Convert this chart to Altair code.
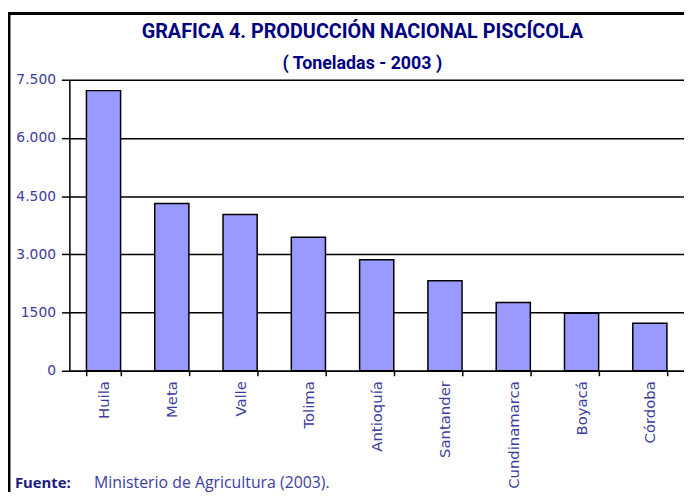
import altair as alt
import pandas as pd

departamentos = ["Huila", "Meta", "Valle", "Tolima", "Antioquía", "Santander",
                 "Cundinamarca", "Boyacá", "Córdoba"]
toneladas = [7220, 4310, 4030, 3440, 2860, 2320, 1760, 1480, 1225]
y_ticks = [0, 1500, 3000, 4500, 6000, 7500]
y_tick_labels = ["0", "1500", "3.000", "4.500", "6.000", "7.500"]
titulo = "GRAFICA 4. PRODUCCIÓN NACIONAL PISCÍCOLA"
subtitulo = "( Toneladas  - 2003 )"
fuente_label = "Fuente:"
fuente_texto = "Ministerio de Agricultura (2003)."

df = pd.DataFrame({"departamento": departamentos, "toneladas": toneladas})

label_expr = "[{}][indexof([{}], datum.value)]".format(
    ",".join("'" + s + "'" for s in y_tick_labels),
    ",".join(str(v) for v in y_ticks),
)

axis_blue = "#3d3d9e"
narrow = "Roboto, sans-serif"

bars = alt.Chart(df).mark_bar(color="#9999ff", stroke="black", strokeWidth=1.5).encode(
    x=alt.X("departamento:N", sort=departamentos,
            scale=alt.Scale(paddingInner=0.5, paddingOuter=0.25),
            axis=alt.Axis(title=None, labelAngle=270, labelFontSize=15,
                          labelFont="DejaVu Sans", labelColor=axis_blue,
                          tickBand="extent", tickColor="black", tickSize=5,
                          tickWidth=1.5, domainColor="black", domainWidth=1.5,
                          labelPadding=5)),
    y=alt.Y("toneladas:Q", scale=alt.Scale(domain=[0, 7500]),
            axis=alt.Axis(title=None, values=y_ticks, labelExpr=label_expr,
                          grid=True, gridColor="black", gridWidth=1.5,
                          tickColor="black", tickSize=8, tickWidth=1.5,
                          domainColor="black", domainWidth=1.5,
                          labelColor=axis_blue, labelFontSize=14,
                          labelFont="DejaVu Sans", labelPadding=6)),
)

title_layer = alt.Chart(pd.DataFrame({"t": [titulo]})).mark_text(
    font=narrow, fontSize=20, fontWeight="bold", color="#000080", align="center", baseline="middle"
).encode(text="t:N", x=alt.value(296), y=alt.value(-48))

subtitle_layer = alt.Chart(pd.DataFrame({"t": [subtitulo]})).mark_text(
    font=narrow, fontSize=18, fontWeight="bold", color="#000080", align="center", baseline="middle"
).encode(text="t:N", x=alt.value(296), y=alt.value(-16))

fuente_l = alt.Chart(pd.DataFrame({"t": [fuente_label]})).mark_text(
    font="Open Sans", fontSize=15, fontWeight="bold", color="#1a1a80", align="left", baseline="middle"
).encode(text="t:N", x=alt.value(-55), y=alt.value(407))

fuente_t = alt.Chart(pd.DataFrame({"t": [fuente_texto]})).mark_text(
    font="Open Sans", fontSize=16, color=axis_blue, align="left", baseline="middle"
).encode(text="t:N", x=alt.value(25), y=alt.value(407))

border_left = alt.Chart(pd.DataFrame({"a": [0]})).mark_rule(color="black", strokeWidth=3).encode(
    x=alt.value(-61), y=alt.value(-67), y2=alt.value(420))
border_top = alt.Chart(pd.DataFrame({"a": [0]})).mark_rule(color="black", strokeWidth=3).encode(
    x=alt.value(-62), x2=alt.value(625), y=alt.value(-67))

chart = alt.layer(bars, title_layer, subtitle_layer, fuente_l, fuente_t, border_left, border_top).properties(
    width=621, height=294,
    autosize=alt.AutoSizeParams(type="none"),
    padding={"left": 62, "top": 70, "right": 0, "bottom": 120},
).configure_view(stroke=None).configure(background="white")

chart.save("out.html", embed_options={"renderer": "svg", "actions": False})
